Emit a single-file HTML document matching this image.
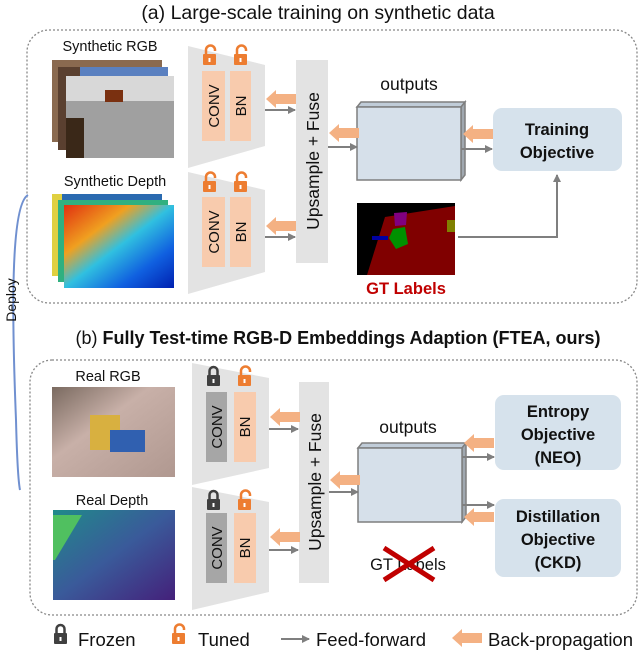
<!DOCTYPE html>
<html><head><meta charset="utf-8"><style>
body{margin:0;background:#fff}
svg{display:block}
text{font-family:"Liberation Sans",sans-serif}
</style></head><body>
<svg width="640" height="654" viewBox="0 0 640 654" xmlns="http://www.w3.org/2000/svg">
<defs>
<marker id="ah" markerWidth="8" markerHeight="8" refX="7" refY="4" orient="auto" markerUnits="userSpaceOnUse"><path d="M0,0 L8,4 L0,8 Z" fill="#7f7f7f"/></marker>
<linearGradient id="jet" x1="0" y1="0" x2="1" y2="1"><stop offset="0" stop-color="#e03010"/><stop offset="0.3" stop-color="#f0a020"/><stop offset="0.5" stop-color="#30c0e0"/><stop offset="0.75" stop-color="#1060e0"/><stop offset="1" stop-color="#0020b0"/></linearGradient>
<linearGradient id="vir" x1="0" y1="0" x2="1" y2="1"><stop offset="0" stop-color="#208a8a"/><stop offset="0.5" stop-color="#3a5a9a"/><stop offset="1" stop-color="#44207a"/></linearGradient>
<linearGradient id="room" x1="0" y1="0" x2="1" y2="1"><stop offset="0" stop-color="#7a6a60"/><stop offset="0.4" stop-color="#c8b0a8"/><stop offset="1" stop-color="#b09890"/></linearGradient>
<g id="orange"><path d="M0,5 L10,-4 L10,0 L30,0 L30,10 L10,10 L10,14 Z" fill="#f4b183"/></g>
<g id="lockO"><path d="M3,9 V5 a4.5,4.5 0 0 1 9,0 V6" fill="none" stroke="#ed7d31" stroke-width="2.5"/><rect x="0" y="9" width="13" height="11" rx="1" fill="#ed7d31"/><rect x="5.5" y="13" width="2" height="4" fill="#fff"/></g>
<g id="lockG"><path d="M2.5,9 V5 a4,4 0 0 1 8,0 V9" fill="none" stroke="#404040" stroke-width="2.5"/><rect x="0" y="9" width="13" height="11" rx="1" fill="#404040"/><rect x="5.5" y="13" width="2" height="4" fill="#fff"/></g>
</defs>

<text x="318" y="19" font-size="19.5" text-anchor="middle" fill="#111">(a) Large-scale training on synthetic data</text>
<rect x="27" y="30" width="610" height="273" rx="22" fill="none" stroke="#888" stroke-width="1.3" stroke-dasharray="2,2"/>

<text x="110" y="51" font-size="14.5" text-anchor="middle" fill="#111">Synthetic  RGB</text>
<rect x="52" y="60" width="110" height="82" fill="#8a6a50"/>
<rect x="58" y="67" width="110" height="83" fill="#5a4030"/><rect x="80" y="67" width="88" height="12" fill="#5a80c0"/>
<rect x="66" y="76" width="108" height="82" fill="#a0a0a0"/><rect x="66" y="76" width="108" height="25" fill="#d8d8d8"/><rect x="66" y="118" width="18" height="40" fill="#3a2818"/><rect x="105" y="90" width="18" height="12" fill="#7a3010"/>
<text x="115" y="186" font-size="14.5" text-anchor="middle" fill="#111">Synthetic  Depth</text>
<rect x="52" y="194" width="110" height="82" fill="#2a6ab0"/><rect x="52" y="194" width="10" height="82" fill="#e0d040"/>
<rect x="58" y="200" width="110" height="82" fill="#30b080"/>
<rect x="64" y="205" width="110" height="83" fill="url(#jet)"/>

<polygon points="188,46 265,65 265,146 188,168" fill="#e3e3e3"/>
<polygon points="188,172 265,190 265,272 188,294" fill="#e3e3e3"/>
<use href="#lockO" x="203" y="45"/><use href="#lockO" x="234" y="45"/>
<use href="#lockO" x="203" y="172"/><use href="#lockO" x="234" y="172"/>
<rect x="202" y="71" width="23" height="70" fill="#f8cbad"/><rect x="230" y="71" width="21" height="70" fill="#f8cbad"/>
<rect x="202" y="197" width="23" height="70" fill="#f8cbad"/><rect x="230" y="197" width="21" height="70" fill="#f8cbad"/>
<text transform="translate(219,106) rotate(-90)" font-size="15" text-anchor="middle" fill="#111">CONV</text>
<text transform="translate(246,106) rotate(-90)" font-size="15" text-anchor="middle" fill="#111">BN</text>
<text transform="translate(219,232) rotate(-90)" font-size="15" text-anchor="middle" fill="#111">CONV</text>
<text transform="translate(246,232) rotate(-90)" font-size="15" text-anchor="middle" fill="#111">BN</text>
<rect x="296" y="60" width="32" height="203" fill="#e3e3e3"/>
<text transform="translate(319,161) rotate(-90)" font-size="17.5" text-anchor="middle" fill="#111">Upsample + Fuse</text>
<use href="#orange" x="266" y="94"/><line x1="265" y1="110" x2="295" y2="110" stroke="#7f7f7f" stroke-width="2" marker-end="url(#ah)"/>
<use href="#orange" x="266" y="221"/><line x1="265" y1="237" x2="295" y2="237" stroke="#7f7f7f" stroke-width="2" marker-end="url(#ah)"/>

<text x="409" y="90" font-size="17.5" text-anchor="middle" fill="#111">outputs</text>
<polygon points="357,107 361,102 465,102 461,107" fill="#c0ccd8" stroke="#7f7f7f" stroke-width="1.5"/>
<polygon points="461,107 465,102 465,175 461,180" fill="#a0a8b0" stroke="#7f7f7f" stroke-width="1.5"/>
<rect x="357" y="107" width="104" height="73" fill="#d6e0ea" stroke="#7f7f7f" stroke-width="1.5"/>
<rect x="493" y="108" width="129" height="63" rx="9" fill="#d6e2ec"/>
<text x="557" y="135" font-size="16.5" font-weight="bold" text-anchor="middle" fill="#111">Training</text>
<text x="557" y="158" font-size="16.5" font-weight="bold" text-anchor="middle" fill="#111">Objective</text>
<use href="#orange" x="329" y="128"/><line x1="328" y1="147" x2="357" y2="147" stroke="#7f7f7f" stroke-width="2" marker-end="url(#ah)"/>
<use href="#orange" x="463" y="129"/><line x1="461" y1="149" x2="492" y2="149" stroke="#7f7f7f" stroke-width="2" marker-end="url(#ah)"/>
<rect x="357" y="203" width="98" height="72" fill="#000"/>
<polygon points="385,217 455,206 455,275 367,275" fill="#800000"/>
<polygon points="394,213 407,212 406,225 395,226" fill="#800080"/>
<polygon points="393,229 405,227 408,244 396,249 389,238" fill="#009000"/>
<rect x="372" y="236" width="16" height="4" fill="#0000a0"/>
<rect x="447" y="220" width="8" height="12" fill="#808000"/>
<text x="406" y="294" font-size="16.5" font-weight="bold" text-anchor="middle" fill="#c00000">GT Labels</text>
<polyline points="458,237 557,237 557,175" fill="none" stroke="#7f7f7f" stroke-width="2" marker-end="url(#ah)"/>

<path d="M28,195 C10,205 12,320 16,420 C17,460 18,480 20,490" fill="none" stroke="#7090d0" stroke-width="2"/>
<text transform="translate(16,300) rotate(-90)" font-size="14" text-anchor="middle" fill="#111">Deploy</text>

<text x="338" y="344" font-size="18" text-anchor="middle" fill="#111">(b) <tspan font-weight="bold">Fully Test-time RGB-D Embeddings Adaption (FTEA, ours)</tspan></text>
<rect x="30" y="360" width="607" height="255" rx="22" fill="none" stroke="#888" stroke-width="1.3" stroke-dasharray="2,2"/>

<text x="108" y="381" font-size="14.5" text-anchor="middle" fill="#111">Real  RGB</text>
<rect x="52" y="387" width="123" height="90" fill="url(#room)"/>
<rect x="90" y="415" width="30" height="35" fill="#d8b040"/><rect x="110" y="430" width="35" height="22" fill="#3060b0"/>
<text x="112" y="505" font-size="14.5" text-anchor="middle" fill="#111">Real  Depth</text>
<rect x="53" y="510" width="122" height="90" fill="url(#vir)"/>
<polygon points="53,515 82,515 55,560 53,560" fill="#50c060"/>

<polygon points="192,363 269,378 269,468 192,485" fill="#e3e3e3"/>
<polygon points="192,487 269,502 269,592 192,610" fill="#e3e3e3"/>
<use href="#lockG" x="207" y="366"/><use href="#lockO" x="238" y="366"/>
<use href="#lockG" x="207" y="490"/><use href="#lockO" x="238" y="490"/>
<rect x="206" y="392" width="21" height="70" fill="#a6a6a6"/><rect x="234" y="392" width="22" height="70" fill="#f8cbad"/>
<rect x="206" y="513" width="21" height="70" fill="#a6a6a6"/><rect x="234" y="513" width="22" height="70" fill="#f8cbad"/>
<text transform="translate(222,427) rotate(-90)" font-size="15" text-anchor="middle" fill="#111">CONV</text>
<text transform="translate(250,427) rotate(-90)" font-size="15" text-anchor="middle" fill="#111">BN</text>
<text transform="translate(222,548) rotate(-90)" font-size="15" text-anchor="middle" fill="#111">CONV</text>
<text transform="translate(250,548) rotate(-90)" font-size="15" text-anchor="middle" fill="#111">BN</text>
<rect x="299" y="382" width="30" height="201" fill="#e3e3e3"/>
<text transform="translate(321,482) rotate(-90)" font-size="17.5" text-anchor="middle" fill="#111">Upsample + Fuse</text>
<use href="#orange" x="270" y="412"/><line x1="269" y1="429" x2="298" y2="429" stroke="#7f7f7f" stroke-width="2" marker-end="url(#ah)"/>
<use href="#orange" x="270" y="532"/><line x1="269" y1="550" x2="298" y2="550" stroke="#7f7f7f" stroke-width="2" marker-end="url(#ah)"/>

<text x="408" y="433" font-size="17.5" text-anchor="middle" fill="#111">outputs</text>
<polygon points="358,448 362,443 466,443 462,448" fill="#c0ccd8" stroke="#7f7f7f" stroke-width="1.5"/>
<polygon points="462,448 466,443 466,517 462,522" fill="#a0a8b0" stroke="#7f7f7f" stroke-width="1.5"/>
<rect x="358" y="448" width="104" height="74" fill="#d6e0ea" stroke="#7f7f7f" stroke-width="1.5"/>
<use href="#orange" x="330" y="475"/><line x1="329" y1="492" x2="358" y2="492" stroke="#7f7f7f" stroke-width="2" marker-end="url(#ah)"/>
<rect x="495" y="395" width="126" height="75" rx="9" fill="#d6e2ec"/>
<text x="558" y="417" font-size="16.5" font-weight="bold" text-anchor="middle" fill="#111">Entropy</text>
<text x="558" y="440" font-size="16.5" font-weight="bold" text-anchor="middle" fill="#111">Objective</text>
<text x="558" y="463" font-size="16.5" font-weight="bold" text-anchor="middle" fill="#111">(NEO)</text>
<rect x="495" y="499" width="126" height="78" rx="9" fill="#d6e2ec"/>
<text x="558" y="522" font-size="16.5" font-weight="bold" text-anchor="middle" fill="#111">Distillation</text>
<text x="558" y="545" font-size="16.5" font-weight="bold" text-anchor="middle" fill="#111">Objective</text>
<text x="558" y="568" font-size="16.5" font-weight="bold" text-anchor="middle" fill="#111">(CKD)</text>
<use href="#orange" x="464" y="438"/><line x1="462" y1="457" x2="494" y2="457" stroke="#7f7f7f" stroke-width="2" marker-end="url(#ah)"/>
<line x1="462" y1="505" x2="494" y2="505" stroke="#7f7f7f" stroke-width="2" marker-end="url(#ah)"/><use href="#orange" x="464" y="512"/>
<text x="408" y="570" font-size="16.5" text-anchor="middle" fill="#111">GT Labels</text>
<path d="M384,548 L434,580 M434,548 L384,580" stroke="#c00000" stroke-width="5"/>

<use href="#lockG" x="54" y="624"/><text x="78" y="646" font-size="18.5" fill="#111">Frozen</text>
<use href="#lockO" x="172" y="624"/><text x="198" y="646" font-size="18.5" fill="#111">Tuned</text>
<line x1="281" y1="639" x2="309" y2="639" stroke="#7f7f7f" stroke-width="2" marker-end="url(#ah)"/><text x="316" y="646" font-size="18.5" fill="#111">Feed-forward</text>
<use href="#orange" x="452" y="633"/><text x="488" y="646" font-size="18.5" fill="#111">Back-propagation</text>
</svg>
</body></html>
